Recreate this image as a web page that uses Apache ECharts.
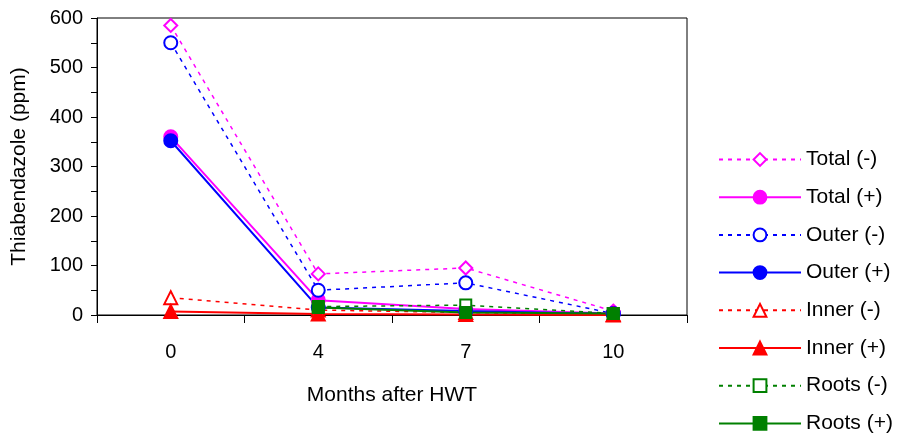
<!DOCTYPE html>
<html>
<head>
<meta charset="utf-8">
<script src="https://cdn.jsdelivr.net/npm/echarts@6/dist/echarts.min.js"></script>
<style>
  html, body { margin: 0; padding: 0; background: #fff; }
  #chart { width: 897px; height: 439px; }
</style>
</head>
<body>
<div id="chart"></div>
<script>
// months after hot water treatment
var months = ['0', '4', '7', '10']

// thiabendazole residues (ppm)
var totalMinus = [585, 83, 95, 8]
var totalPlus = [360, 30, 12, 3]
var outerMinus = [550, 50, 65, 3]
var outerPlus = [352, 15, 8, 2]
var innerMinus = [35, 10, 5, 1]
var innerPlus = [7, 2, 1, 0]
var rootsMinus = ['-', 17, 20, 3]
var rootsPlus = ['-', 15, 5, 3]

var font = 'Liberation Sans, Arial, sans-serif'

function line (name, data, color, symbol, hollow, dashed) {
  return {
    name: name,
    type: 'line',
    data: data,
    symbol: symbol,
    symbolSize: symbol === 'rect' ? 11 : 13,
    showAllSymbol: true,
    connectNulls: true,
    lineStyle: {
      color: color,
      width: dashed ? 1.5 : 2,
      type: dashed ? [4, 5] : 'solid'
    },
    itemStyle: {
      color: hollow ? '#fff' : color,
      borderColor: color,
      borderWidth: 2
    },
    emphasis: { disabled: true }
  }
}

var chart = echarts.init(document.getElementById('chart'))
chart.setOption({
  animation: false,
  textStyle: { fontFamily: font },
  grid: {
    left: 97,
    top: 18,
    width: 590,
    height: 297,
    show: true,
    borderColor: '#000',
    borderWidth: 1
  },
  legend: {
    orient: 'vertical',
    left: 713,
    top: 144,
    itemWidth: 82,
    itemHeight: 16,
    itemGap: 16.7,
    textStyle: { fontSize: 21, color: '#000', fontFamily: font },
    data: ['Total (-)', 'Total (+)', 'Outer (-)', 'Outer (+)', 'Inner (-)', 'Inner (+)', 'Roots (-)', 'Roots (+)']
  },
  xAxis: {
    type: 'category',
    data: months,
    boundaryGap: true,
    name: 'Months after HWT',
    nameLocation: 'middle',
    nameGap: 70,
    nameTextStyle: { fontSize: 21, color: '#000', fontFamily: font },
    axisLine: { lineStyle: { color: '#000', width: 1 } },
    axisTick: { show: true, length: 8, lineStyle: { color: '#000' } },
    axisLabel: { fontSize: 20, color: '#000', margin: 27, fontFamily: font }
  },
  yAxis: {
    type: 'value',
    min: 0,
    max: 600,
    interval: 50,
    name: 'Thiabendazole (ppm)',
    nameLocation: 'middle',
    nameGap: 67,
    nameTextStyle: { fontSize: 21, color: '#000', fontFamily: font },
    axisLine: { show: true, lineStyle: { color: '#000', width: 1 } },
    axisTick: { show: true, length: 6, lineStyle: { color: '#000' } },
    splitLine: { show: false },
    axisLabel: {
      fontSize: 20,
      color: '#000',
      margin: 14,
      fontFamily: font,
      formatter: function (v) { return v % 100 === 0 ? String(v) : '' }
    }
  },
  series: [
    line('Total (-)', totalMinus, '#ff00ff', 'diamond', true, true),
    line('Total (+)', totalPlus, '#ff00ff', 'circle', false, false),
    line('Outer (-)', outerMinus, '#0000ff', 'circle', true, true),
    line('Outer (+)', outerPlus, '#0000ff', 'circle', false, false),
    line('Inner (-)', innerMinus, '#ff0000', 'triangle', true, true),
    line('Inner (+)', innerPlus, '#ff0000', 'triangle', false, false),
    line('Roots (-)', rootsMinus, '#008000', 'rect', true, true),
    line('Roots (+)', rootsPlus, '#008000', 'rect', false, false)
  ]
})
</script>
</body>
</html>
